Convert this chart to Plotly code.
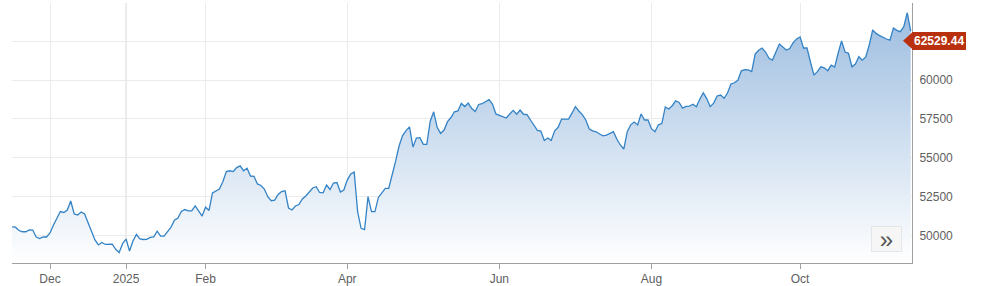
import pandas as pd
import plotly.graph_objects as go

# ---- data ----
start_date = "2024-11-15"
values = [
    50550, 50520, 50310, 50230, 50230, 50350, 50340, 49890, 49790, 49890,
    49890, 50150, 50660, 51050, 51530, 51470, 51630, 52210, 51370, 51310,
    51500, 51370, 50790, 50180, 49700, 49380, 49540, 49410, 49440, 49430,
    49100, 48890, 49470, 49760, 48990, 49630, 50050, 49770, 49730, 49740,
    49860, 49900, 50270, 49950, 49950, 50260, 50530, 50970, 51110, 51530,
    51660, 51570, 51570, 51890, 51570, 51240, 51810, 51600, 52730, 52850,
    52980, 53450, 54110, 54160, 54110, 54360, 54470, 54160, 54320, 53820,
    53800, 53310, 53210, 52980, 52490, 52230, 52270, 52630, 52820, 52870,
    51760, 51630, 51890, 51980, 52340, 52530, 52820, 53050, 53130, 52760,
    52740, 53240, 52950, 53370, 53400, 52790, 52920, 53560, 53950, 54080,
    51500, 50450, 50370, 52490, 51520, 51520, 52440, 52740, 53030, 53030,
    53850, 54790, 55770, 56430, 56750, 56990, 55690, 56270, 56290, 55860,
    55860, 57350, 57960, 56960, 56570, 56780, 57320, 57590, 57960, 58010,
    58500, 58300, 58520, 58170, 57980, 58430, 58480, 58630, 58740, 58460,
    57820, 57730, 57650, 57560, 57820, 58050, 57800, 58070, 57800, 57780,
    57430, 57060, 56760, 56720, 56110, 56270, 56110, 56730, 56960, 57490,
    57490, 57490, 57870, 58290, 58010, 57780, 57430, 56850, 56730, 56670,
    56530, 56410, 56460, 56550, 56680, 56190, 55820, 55560, 56680, 57120,
    57300, 57110, 57820, 57430, 57430, 56870, 56670, 57120, 57200, 58270,
    58140, 58350, 58670, 58560, 58200, 58310, 58330, 58450, 58280, 58780,
    59180, 58810, 58290, 58520, 58980, 59040, 58830, 59170, 59750, 59830,
    59990, 60600, 60680, 60660, 60550, 61680, 61920, 62070, 61810, 61410,
    61290, 61810, 62330, 62130, 61940, 62040, 62420, 62650, 62780, 62070,
    62070, 61170, 60320, 60550, 60860, 60790, 60610, 60970, 60840, 61730,
    62520, 61810, 61730, 60860, 61040, 61510, 61290, 61490, 62260, 63230,
    63010, 62870, 62750, 62650, 62580, 63360, 63210, 63120, 63440, 64340,
    63160,
]
dates = pd.bdate_range(start_date, periods=len(values))

x_tick_dates = ["2024-12-02", "2025-01-01", "2025-02-03", "2025-04-01",
                "2025-06-02", "2025-08-01", "2025-10-01"]
x_tick_labels = ["Dec", "2025", "Feb", "Apr", "Jun", "Aug", "Oct"]
year_tick = "2025-01-01"
y_ticks = [50000, 52500, 55000, 57500, 60000, 62500]
y_tick_labels = ["50000", "52500", "55000", "57500", "60000", ""]
last_price = 62529.44

FONT = "Liberation Sans, Arial, sans-serif"

fig = go.Figure()
fig.add_trace(go.Scatter(
    x=dates, y=values, mode="lines",
    line=dict(color="#3383c6", width=1.3),
    fill="tozeroy",
    fillgradient=dict(
        type="vertical",
        colorscale=[[0, "#ffffff"], [1, "#9dbde0"]],
        start=48215, stop=64500,
    ),
    hoverinfo="skip", showlegend=False,
))

fig.update_layout(
    width=992, height=286,
    margin=dict(l=12, r=80, t=3, b=23),
    paper_bgcolor="white", plot_bgcolor="white",
    font=dict(family=FONT, size=12, color="#606060"),
    xaxis=dict(
        range=["2024-11-15", "2025-11-14 09:00"],
        rangebreaks=[dict(bounds=["sat", "mon"])],
        tickmode="array", tickvals=x_tick_dates, ticktext=x_tick_labels,
        showgrid=True, gridcolor="#ebebeb", gridwidth=1,
        showline=True, linecolor="#a0a0a0", linewidth=1,
        ticks="outside", ticklen=5, tickcolor="#a0a0a0",
        zeroline=False, fixedrange=True, automargin=False,
        tickfont=dict(size=12, color="#606060"),
    ),
    yaxis=dict(
        range=[48215, 64970], side="right",
        tickmode="array", tickvals=y_ticks, ticktext=y_tick_labels,
        showgrid=True, gridcolor="#ebebeb", gridwidth=1,
        showline=True, linecolor="#a0a0a0", linewidth=1,
        ticks="", zeroline=False, fixedrange=True, automargin=False,
        ticklabelstandoff=4,
        tickfont=dict(size=12, color="#606060"),
    ),
)

# darker year-boundary gridline
fig.add_shape(type="line", xref="x", yref="paper", x0=year_tick, x1=year_tick,
              y0=0, y1=1, line=dict(color="#d4d4d4", width=1), layer="below")

# last price flag
fig.add_shape(type="path", xref="paper", yref="y",
              xsizemode="pixel", ysizemode="pixel",
              xanchor=1, yanchor=last_price,
              path="M -9,0 L 1,9 L 1,-9 Z",
              fillcolor="#b8300e", line=dict(width=0))
fig.add_annotation(x=1, xref="paper", y=last_price, yref="y",
                   xanchor="left", yanchor="middle", showarrow=False,
                   text=f"<b>{last_price:.2f}</b>",
                   font=dict(color="white", size=12, family=FONT),
                   bgcolor="#b8300e", bordercolor="#b8300e",
                   borderwidth=1, borderpad=1)

# navigator button
fig.add_annotation(x=0.9722, xref="paper", y=0.094, yref="paper",
                   xanchor="center", yanchor="middle", showarrow=False,
                   text="»", width=29, height=24,
                   font=dict(color="#555555", size=24, family=FONT),
                   bgcolor="#f6f6f6", bordercolor="#e6e6e6",
                   borderwidth=1, borderpad=0)

fig.write_html("out.html")
